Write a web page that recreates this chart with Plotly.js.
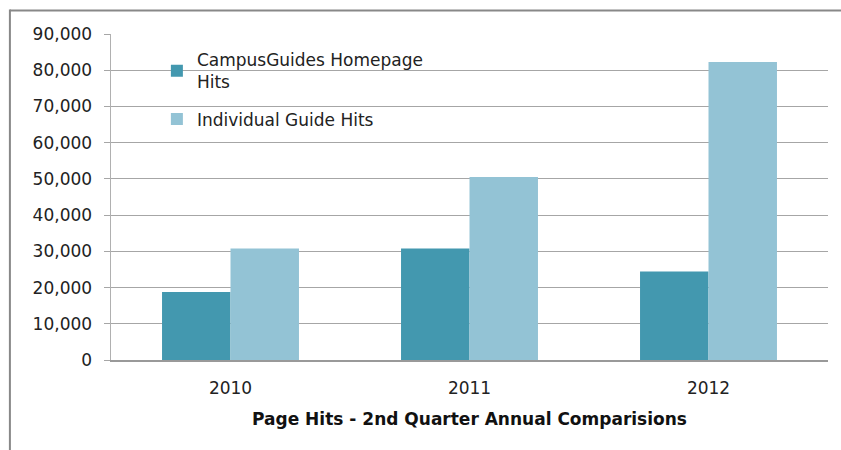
<!DOCTYPE html>
<html>
<head>
<meta charset="utf-8">
<script src="https://cdn.plot.ly/plotly-3.0.1.min.js"></script>
<style>html,body{margin:0;padding:0;background:#fff;}#chart{width:841px;height:450px;}</style>
</head>
<body>
<div id="chart"></div>
<script>
const years = ["2010", "2011", "2012"];
const homepageHits = [18800, 30800, 24400];
const guideHits = [30800, 50500, 82300];
const seriesNames = ["CampusGuides Homepage<br>Hits", "Individual Guide Hits"];
const yTicks = [0, 10000, 20000, 30000, 40000, 50000, 60000, 70000, 80000, 90000];
const yTickLabels = ["0", "10,000", "20,000", "30,000", "40,000", "50,000", "60,000", "70,000", "80,000", "90,000"];
const xTitle = "Page Hits - 2nd Quarter Annual Comparisions";

const font = "DejaVu Sans, Liberation Sans, sans-serif";
const data = [
  {type: "bar", x: years, y: homepageHits, name: seriesNames[0], legendgroup: "a",
   marker: {color: "#4398AF", line: {width: 0}}},
  {type: "bar", x: years, y: guideHits, name: seriesNames[1], legendgroup: "b",
   marker: {color: "#93C3D5", line: {width: 0}}}
];
const layout = {
  width: 841, height: 450,
  margin: {l: 111, r: 13, t: 34, b: 90},
  paper_bgcolor: "#fff", plot_bgcolor: "#fff",
  barmode: "group", bargap: 0.427, bargroupgap: 0,
  font: {family: font, size: 16, color: "#222"},
  showlegend: true,
  legend: {x: 0.064, y: 0.975, xanchor: "left", yanchor: "top",
    bgcolor: "rgba(0,0,0,0)", font: {family: font, size: 17, color: "#222"},
    tracegroupgap: 12, itemwidth: 30},
  xaxis: {type: "category", showgrid: false, showline: true, linecolor: "#999", linewidth: 1.5,
    ticks: "", ticklabelstandoff: 12, tickfont: {family: font, size: 17, color: "#222"},
    title: {text: xTitle, font: {family: font, size: 17, color: "#111", weight: "bold"}, standoff: 16}},
  yaxis: {range: [0, 90000], tickvals: yTicks, ticktext: yTickLabels, showgrid: true,
    gridcolor: "#a6a6a6", gridwidth: 1, showline: true, linecolor: "#b0b0b0", linewidth: 1.5,
    ticks: "outside", ticklen: 6, tickcolor: "#a6a6a6", zeroline: false, ticklabelstandoff: 8,
    tickfont: {family: font, size: 17, color: "#222"}},
  shapes: [
    {type: "line", xref: "paper", yref: "paper", x0: -0.141, x1: -0.141, y0: 1.075, y1: -0.3,
     line: {color: "#888", width: 2}},
    {type: "line", xref: "paper", yref: "paper", x0: -0.141, x1: 1.03, y0: 1.072, y1: 1.072,
     line: {color: "#888", width: 2}}
  ]
};
Plotly.newPlot("chart", data, layout, {displayModeBar: false, staticPlot: true});
</script>
</body>
</html>
